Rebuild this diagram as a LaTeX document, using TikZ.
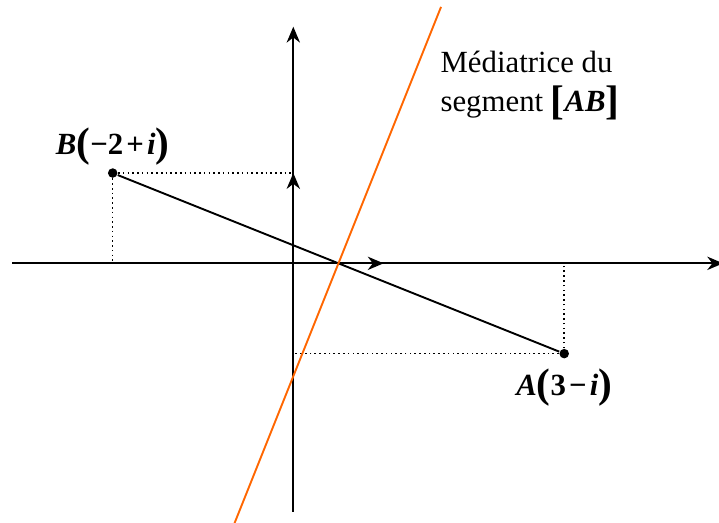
\documentclass[tikz,border=0pt]{standalone}
\usepackage{fontspec}
\setmainfont{Liberation Serif}
\usetikzlibrary{arrows.meta,positioning}
\definecolor{medorange}{RGB}{255,102,0}
\newcommand{\bigdelim}[1]{{\fontsize{13}{13}\selectfont\upshape\raisebox{-0.12ex}{#1}}}

\begin{document}
\begin{tikzpicture}[
    axis/.style={line width=0.6pt, -{Stealth[length=5pt,width=4.2pt,inset=1.6pt]}},
    point/.style={circle, fill, inner sep=0pt, minimum size=3pt},
    proj/.style={densely dotted, line width=0.5pt},
    lbl/.style={font=\fontsize{9.7}{12}\selectfont\bfseries\itshape, inner sep=0.5pt}]
    \useasboundingbox (-3.248,-2.865) rectangle (4.714,2.916);
    % Axes
    \coordinate (O) at (0,0);
    \coordinate (xmin) at (-3.11,0);
    \coordinate (xmax) at (4.76,0);
    \coordinate (ymin) at (0,-2.75);
    \coordinate (ymax) at (0,2.62);
    \draw[axis] (xmin) -- (xmax);
    \draw[axis] (ymin) -- (ymax);
    % Unit vectors
    \coordinate (I) at (1,0);
    \coordinate (J) at (0,1);
    \draw[axis] (O) -- (I);
    \draw[axis] (O) -- (J);
    % Points
    \node[point] (A) at (3,-1) {};
    \node[point] (B) at (-2,1) {};
    \coordinate (Ax) at (3,0);
    \coordinate (Ay) at (0,-1);
    \coordinate (Bx) at (-2,0);
    % Projections
    \draw[proj] (B) -- (J);
    \draw[proj] (B) -- (Bx);
    \draw[proj] (A) -- (Ay);
    \draw[proj] (A) -- (Ax);
    % Segment
    \draw[line width=0.6pt] (B) -- (A);
    % Perpendicular bisector
    \coordinate (Mbot) at (-0.66,-2.9);
    \coordinate (Mtop) at (1.636,2.84);
    \draw[medorange, line width=0.6pt] (Mbot) -- (Mtop);
    % Labels
    \node[lbl, above=0pt of B] (Blbl) {B\bigdelim{(}{\upshape\textminus2\kern1pt+\kern1pt}i\bigdelim{)}};
    \node[lbl, below=2.5pt of A] (Albl) {A\bigdelim{(}{\upshape3\kern1pt\textminus\kern1pt}i\bigdelim{)}};
    \node[anchor=north west, inner sep=0pt, align=left, font=\fontsize{9.7}{12.5}\selectfont] (med) at (1.624,2.36)
        {Médiatrice du\\segment {\bfseries\bigdelim{[}\textit{AB}\bigdelim{]}}};
\end{tikzpicture}
\end{document}
